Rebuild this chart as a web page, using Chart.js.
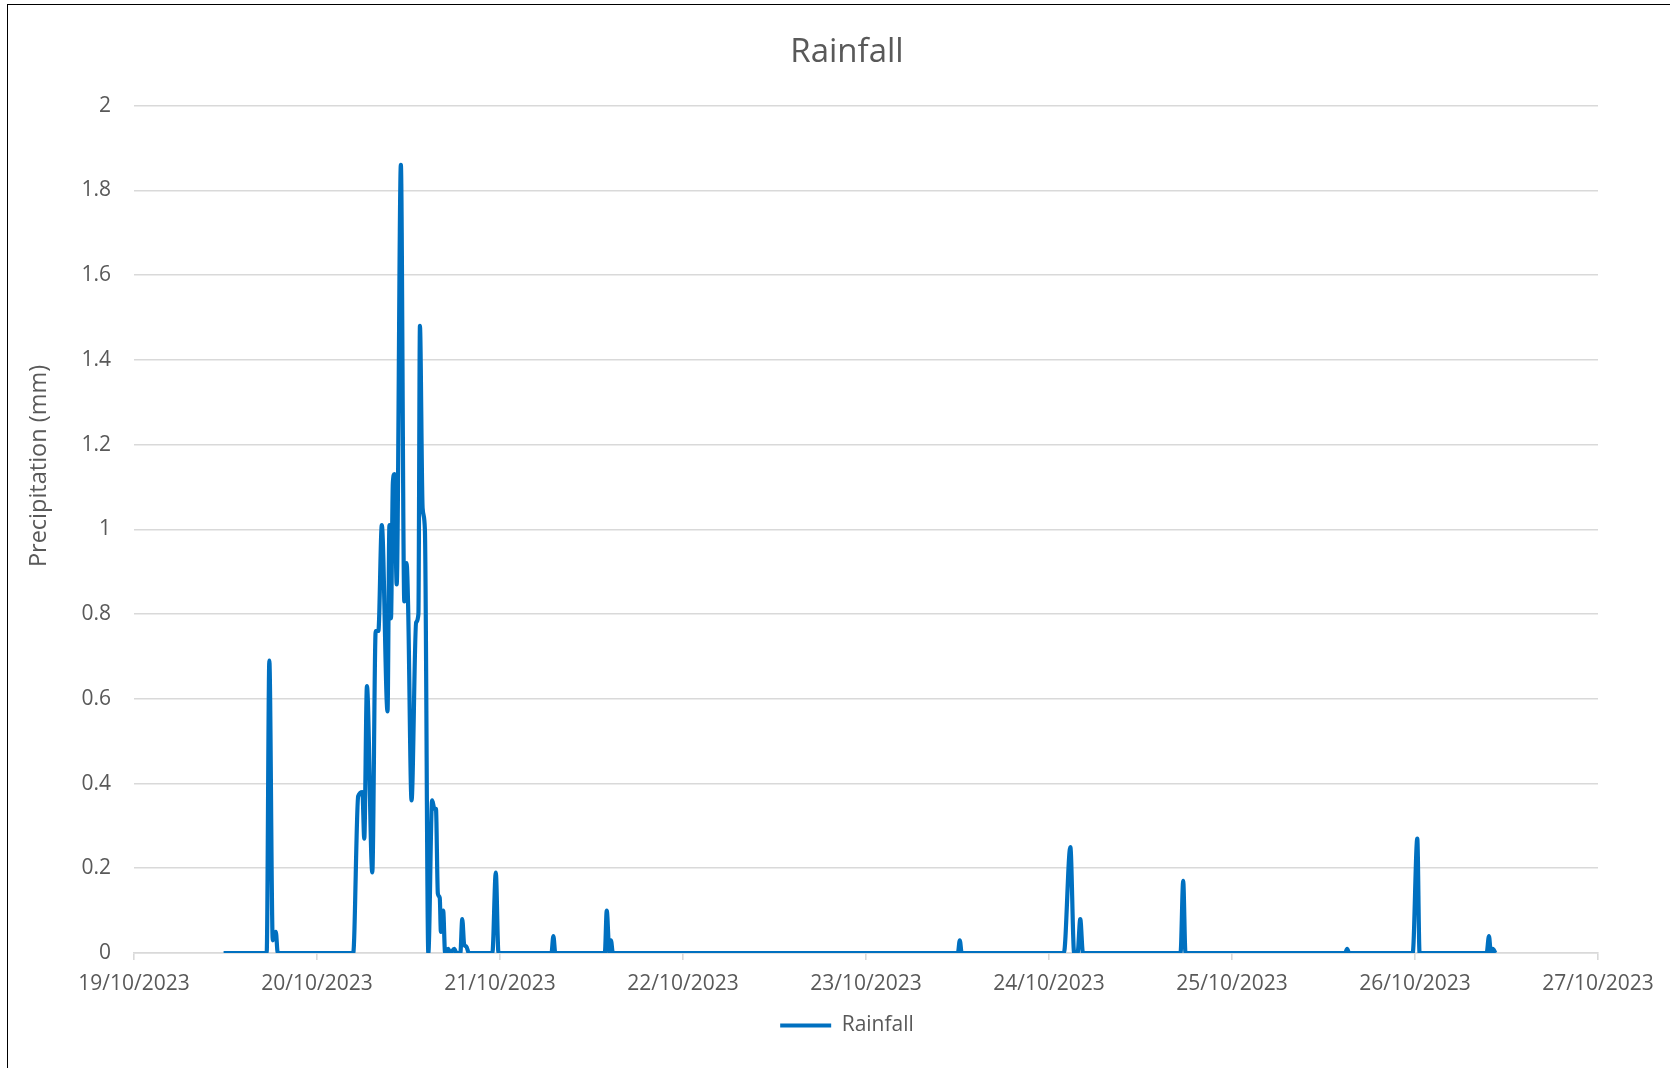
<!DOCTYPE html>
<html>
<head>
<meta charset="utf-8">
<title>Rainfall</title>
<script src="https://cdn.jsdelivr.net/npm/chart.js@4.4.1/dist/chart.umd.min.js"></script>
<style>
  html, body { margin: 0; padding: 0; background: #fff; overflow: hidden; }
  #wrap { position: absolute; left: 0; top: 0; width: 1670px; height: 1068px; }
  #frame { position: absolute; left: 7px; top: 4px; width: 1700px; height: 1100px; border: 1.5px solid #000; pointer-events: none; }
</style>
</head>
<body>
<div id="wrap"><canvas id="rainChart" width="1670" height="1068"></canvas></div>
<div id="frame"></div>
<script>
// hours counted from 19/10/2023 00:00
var hours = [
  11.75, 17.4, 17.75, 18.2, 18.6, 18.85,
  28.75, 29.4, 29.95, 30.2, 30.55, 31.25, 31.7, 32.05, 32.5, 33.25, 33.5, 33.7, 33.95, 34.15, 34.45,
  35.0, 35.45, 35.75, 35.95, 36.4, 37.0, 37.3, 37.5, 37.85, 38.15, 38.6, 39.1, 39.4, 39.6, 39.85,
  40.1, 40.25, 40.55, 40.8, 41.2, 41.5, 42.0, 42.3, 42.8, 43.05, 43.3, 43.6, 43.9,
  47.0, 47.45, 47.8,
  54.75, 55.0, 55.25,
  61.75, 62.0, 62.35, 62.55, 62.8,
  108.05, 108.3, 108.55,
  121.95, 122.8, 123.3, 123.75, 124.1, 124.45,
  137.25, 137.6, 137.9,
  158.85, 159.1, 159.35,
  167.7, 168.3, 168.6,
  177.4, 177.7, 177.95, 178.2, 178.55
];
var rainfall = [
  0, 0, 0.69, 0.03, 0.05, 0,
  0, 0.37, 0.38, 0.27, 0.63, 0.19, 0.76, 0.76, 1.01, 0.57, 1.01, 0.79, 1.11, 1.13, 0.87,
  1.86, 0.83, 0.92, 0.82, 0.36, 0.78, 0.80, 1.48, 1.05, 1.0, 0, 0.36, 0.34, 0.34, 0.14,
  0.13, 0.05, 0.10, 0, 0.01, 0, 0.01, 0, 0, 0.08, 0.02, 0.015, 0,
  0, 0.19, 0,
  0, 0.04, 0,
  0, 0.10, 0, 0.03, 0,
  0, 0.03, 0,
  0, 0.25, 0, 0, 0.08, 0,
  0, 0.17, 0,
  0, 0.01, 0,
  0, 0.27, 0,
  0, 0.04, 0, 0.01, 0
];
var dateLabels = ['19/10/2023', '20/10/2023', '21/10/2023', '22/10/2023', '23/10/2023',
  '24/10/2023', '25/10/2023', '26/10/2023', '27/10/2023'];
var yTickLabels = ['0', '0.2', '0.4', '0.6', '0.8', '1', '1.2', '1.4', '1.6', '1.8', '2'];
var yAxisTitle = 'Precipitation (mm)';

var textColor = '#595959';
var gridColor = '#d9d9d9';
var fontFamily = "'Open Sans', 'Noto Sans', sans-serif";

var points = hours.map(function(h, i) {
  return { x: h, y: rainfall[i] };
});

// Excel centres title and legend a bit right of the canvas middle,
// and puts the value axis title above the middle of the plot
var excelLook = {
  id: 'excelLook',
  afterLayout: function(chart) {
    [chart.titleBlock, chart.legend].forEach(function(box) {
      box.left += 48;
      box.right += 48;
    });
  },
  afterDraw: function(chart) {
    var c = chart.ctx;
    c.save();
    c.translate(39, 466);
    c.rotate(-Math.PI / 2);
    c.textAlign = 'center';
    c.textBaseline = 'middle';
    c.fillStyle = textColor;
    c.font = "23.5px " + fontFamily;
    c.fillText(yAxisTitle, 0, 0);
    c.restore();
  }
};

var ctx = document.getElementById('rainChart').getContext('2d');
var rainChart = new Chart(ctx, {
  type: 'line',
  data: {
    datasets: [{
      label: 'Rainfall',
      data: points,
      borderColor: '#0070C0',
      backgroundColor: '#0070C0',
      borderWidth: 4.2,
      borderJoinStyle: 'round',
      pointRadius: 0,
      pointStyle: 'line',
      cubicInterpolationMode: 'monotone',
      fill: false
    }]
  },
  options: {
    responsive: false,
    animation: false,
    layout: { padding: { top: 8, right: 72, bottom: 22, left: 0 } },
    plugins: {
      title: {
        display: true,
        text: 'Rainfall',
        color: textColor,
        font: { family: fontFamily, size: 33, weight: 'normal' },
        padding: { top: 25, bottom: 33 }
      },
      legend: {
        position: 'bottom',
        labels: {
          usePointStyle: true,
          pointStyleWidth: 51,
          color: textColor,
          font: { family: fontFamily, size: 21 },
          padding: 10
        }
      },
      tooltip: { enabled: false }
    },
    scales: {
      x: {
        type: 'linear',
        min: 0,
        max: 192,
        afterFit: function(scale) { scale.height = 52; },
        ticks: {
          stepSize: 24,
          autoSkip: false,
          maxRotation: 0,
          padding: 11,
          color: textColor,
          font: { family: fontFamily, size: 21 },
          callback: function(value, index) { return dateLabels[index]; }
        },
        grid: { drawOnChartArea: false, drawTicks: true, tickLength: 7, color: gridColor, lineWidth: 1.6 },
        border: { display: true, color: gridColor, width: 1.6 }
      },
      y: {
        min: 0,
        max: 2,
        afterFit: function(scale) { scale.width = 134; },
        ticks: {
          stepSize: 0.2,
          padding: 23,
          color: textColor,
          font: { family: fontFamily, size: 21 },
          callback: function(value, index) { return yTickLabels[index]; }
        },
        grid: { drawTicks: false, color: gridColor, lineWidth: 1.6 },
        border: { display: false }
      }
    }
  },
  plugins: [excelLook]
});
</script>
</body>
</html>
